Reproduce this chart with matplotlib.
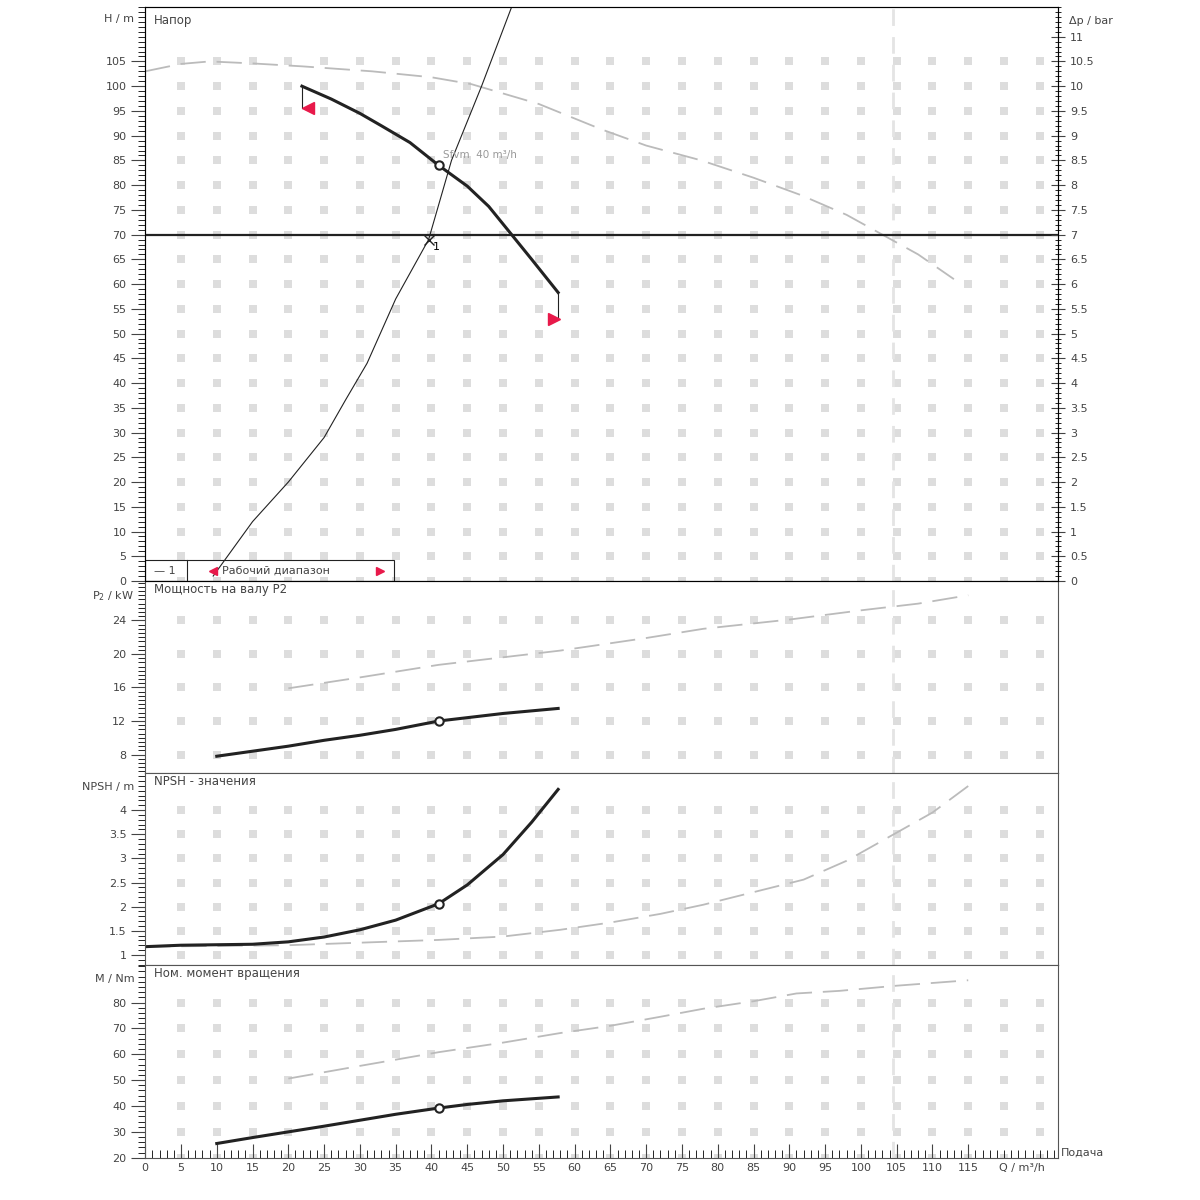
import numpy as np
import matplotlib
matplotlib.use("Agg")
import matplotlib.pyplot as plt
from matplotlib.ticker import MultipleLocator

plt.rcParams['font.family'] = ['DejaVu Sans']

# ---- data (Q in m3/h) ----
head_Q = [21.9, 26, 30, 33, 37, 41, 45, 48, 51.2, 54, 57.7]
head_H = [100, 97.4, 94.5, 92, 88.6, 84, 79.8, 75.7, 70, 65, 58.3]
headmax_Q = [0, 5, 9, 15, 22, 31.7, 40, 45.6, 55, 63.7, 70, 77.7, 85, 91.6, 98, 103, 108, 113]
headmax_H = [103, 104.5, 105, 104.6, 104, 103, 101.8, 100.4, 96.4, 91.3, 88, 85, 81.5, 78, 74, 70, 66, 61]
sys_Q = [9.5, 12, 15, 20, 25, 28, 31, 35, 39.6, 42.8, 47, 51.2]
sys_H = [1, 6, 12, 20, 29, 36.6, 44, 57, 69, 85, 100, 116]
opt_Q, opt_H = 41, 84
pt1_Q, pt1_H = 39.6, 69
setpoint_H = 70
range_Q = [21.9, 57.7]
range_H = [[100, 95.5], [58.3, 53]]

p2_Q = [10, 15, 20, 25, 30, 35, 41, 45, 50, 57.7]
p2_P = [7.8, 8.4, 9.0, 9.7, 10.3, 11.0, 12.0, 12.4, 12.9, 13.5]
p2max_Q = [20, 30, 41, 50, 58, 70, 78, 90, 100, 108, 115]
p2max_P = [15.9, 17.2, 18.7, 19.6, 20.4, 21.9, 23.0, 24.1, 25.2, 26.0, 27.0]

npsh_Q = [0, 5, 10, 15, 20, 25, 30, 35, 41, 45, 50, 54, 57.7]
npsh_V = [1.17, 1.2, 1.21, 1.22, 1.27, 1.37, 1.52, 1.72, 2.06, 2.45, 3.08, 3.75, 4.43]
npshmax_Q = [0, 20, 41, 50, 58, 65, 72, 78, 85, 92, 98, 104, 110, 115]
npshmax_V = [1.17, 1.2, 1.31, 1.38, 1.52, 1.67, 1.85, 2.04, 2.3, 2.56, 2.95, 3.45, 3.95, 4.5]

m_Q = [10, 15, 20, 25, 30, 35, 41, 45, 50, 57.7]
m_M = [25.5, 27.8, 30.0, 32.2, 34.5, 36.8, 39.2, 40.6, 42.0, 43.5]
mmax_Q = [20, 30, 41, 50, 58, 65, 72, 78, 85, 91, 97, 105, 115]
mmax_M = [50.6, 55.5, 60.8, 64.5, 68.2, 71.0, 74.5, 77.6, 80.5, 83.5, 84.5, 86.5, 88.6]

xticks = list(range(0, 120, 5))
gridx = list(range(5, 127, 5))

# ---- figure ----
fig = plt.figure(figsize=(12, 12), dpi=100)
L, R = 0.121, 0.882
axH = fig.add_axes([L, 1 - 581/1200, R - L, (581 - 7)/1200])
axP = fig.add_axes([L, 1 - 773/1200, R - L, (773 - 581)/1200])
axN = fig.add_axes([L, 1 - 965/1200, R - L, (965 - 773)/1200])
axM = fig.add_axes([L, 1 - 1158/1200, R - L, (1158 - 965)/1200])

dark = '#222222'
grey = '#bbbbbb'
tcol = '#444444'

def style(ax, ylim, yt, minor, ylabel, title, ly=0.955):
    ax.set_xlim(0, 127.6)
    ax.set_ylim(*ylim)
    ax.xaxis.set_major_locator(MultipleLocator(5))
    ax.xaxis.set_minor_locator(MultipleLocator(1))
    ax.set_yticks(yt)
    ax.yaxis.set_minor_locator(MultipleLocator(minor))
    ax.tick_params(axis='y', which='major', direction='out', length=10, labelsize=8, colors=tcol)
    ax.tick_params(axis='y', which='minor', direction='out', length=5)
    ax.tick_params(axis='x', which='both', bottom=False, labelbottom=False)
    for s in ax.spines.values():
        s.set_color('#555555')
    X, Y = np.meshgrid(gridx, yt)
    ax.scatter(X.ravel(), Y.ravel(), marker='s', s=30, color='#dddddd', zorder=0, linewidths=0)
    ax.text(1.2, ylim[1] - (ylim[1]-ylim[0])*0.012, title, fontsize=8.5, color=tcol, va='top')
    ax.text(-0.012, ly, ylabel, transform=ax.transAxes, ha='right', va='top', fontsize=8, color=tcol)

style(axH, (0, 116), list(range(0, 110, 5)), 1, 'H / m', 'Напор', ly=0.988)
style(axP, (5.8, 28.7), list(range(8, 28, 4)), 0.5, 'P$_2$ / kW', 'Мощность на валу P2')
style(axN, (0.79, 4.77), list(np.arange(1, 4.5, 0.5)), 0.1, 'NPSH / m', 'NPSH - значения')
axN.set_yticklabels(['1', '1.5', '2', '2.5', '3', '3.5', '4'])
style(axM, (19.9, 94.5), list(range(20, 90, 10)), 2, 'M / Nm', 'Ном. момент вращения')

# bottom x axis
axM.tick_params(axis='x', which='major', bottom=True, labelbottom=True, direction='in', length=10, labelsize=8, colors=tcol)
axM.tick_params(axis='x', which='minor', bottom=True, direction='in', length=6)
axM.set_xticks(xticks)
axM.set_xticklabels([str(v) for v in xticks])
axM.annotate('Q / m³/h', xy=(122.5, 19.9), xytext=(0, -3.5), textcoords='offset points',
             fontsize=8, color=tcol, ha='center', va='top', annotation_clip=False)
axM.text(1.003, 0.0, 'Подача', transform=axM.transAxes, fontsize=8, color=tcol, va='bottom')

for ax in (axH, axP, axN, axM):
    ax.axvline(104.5, color='#e4e4e4', lw=2, ls=(0, (6, 4)), zorder=0)

# ---- head panel ----
axH.plot(headmax_Q, headmax_H, color=grey, lw=1.3, ls=(0, (14, 6)))
axH.plot(sys_Q, sys_H, color=dark, lw=0.8)
axH.plot(head_Q, head_H, color=dark, lw=2.2)
axH.axhline(setpoint_H, color=dark, lw=1.6)
for q, (h1, h2) in zip(range_Q, range_H):
    axH.plot([q, q], [h1, h2], color=dark, lw=0.8)
axH.plot(range_Q[0] + 0.9, range_H[0][1], marker='<', color='#e8194a', ms=8)
axH.plot(range_Q[1] - 0.6, range_H[1][1], marker='>', color='#e8194a', ms=8)
axH.plot(opt_Q, opt_H, marker='o', mfc='white', mec=dark, ms=6, mew=1.5)
axH.plot(pt1_Q, pt1_H, marker='x', color=dark, ms=7)
axH.text(pt1_Q + 0.6, pt1_H - 0.5, '1', fontsize=8, va='top')
axH.text(opt_Q + 0.6, opt_H + 1.0, 'Sfvm  40 m³/h', fontsize=7.5, color='#999999', va='bottom')

# legend box
axH.add_patch(plt.Rectangle((0, 0), 34.8, 4.3, fill=False, ec=dark, lw=0.8, zorder=5))
axH.plot([5.8, 5.8], [0, 4.3], color=dark, lw=0.8)
axH.text(1.2, 2.1, '— 1', fontsize=8, va='center', color=tcol)
axH.plot(9.5, 2.1, marker='<', color='#e8194a', ms=6)
axH.plot(32.8, 2.1, marker='>', color='#e8194a', ms=6)
axH.text(10.8, 2.1, 'Рабочий диапазон', fontsize=8, va='center', color=tcol)

# right axis (bar)
axR = axH.twinx()
axR.set_ylim(0, 11.6)
axR.set_yticks(np.arange(0, 11.01, 0.5))
axR.yaxis.set_minor_locator(MultipleLocator(0.1))
axR.set_yticklabels([('%g' % v) for v in np.arange(0, 11.01, 0.5)])
axR.tick_params(axis='y', which='major', direction='inout', length=10, labelsize=8, colors=tcol)
axR.tick_params(axis='y', which='minor', direction='inout', length=5)
axR.text(1.012, 0.985, 'Δp / bar', transform=axR.transAxes, fontsize=8, color=tcol, va='top')

# ---- power ----
axP.plot(p2max_Q, p2max_P, color=grey, lw=1.3, ls=(0, (14, 6)))
axP.plot(p2_Q, p2_P, color=dark, lw=2.2)
axP.plot(41, 12.0, marker='o', mfc='white', mec=dark, ms=6, mew=1.5)

# ---- NPSH ----
axN.plot(npshmax_Q, npshmax_V, color=grey, lw=1.3, ls=(0, (14, 6)))
axN.plot(npsh_Q, npsh_V, color=dark, lw=2.2)
axN.plot(41, 2.06, marker='o', mfc='white', mec=dark, ms=6, mew=1.5)

# ---- torque ----
axM.plot(mmax_Q, mmax_M, color=grey, lw=1.3, ls=(0, (14, 6)))
axM.plot(m_Q, m_M, color=dark, lw=2.2)
axM.plot(41, 39.2, marker='o', mfc='white', mec=dark, ms=6, mew=1.5)

fig.savefig('out.png', dpi=100)
